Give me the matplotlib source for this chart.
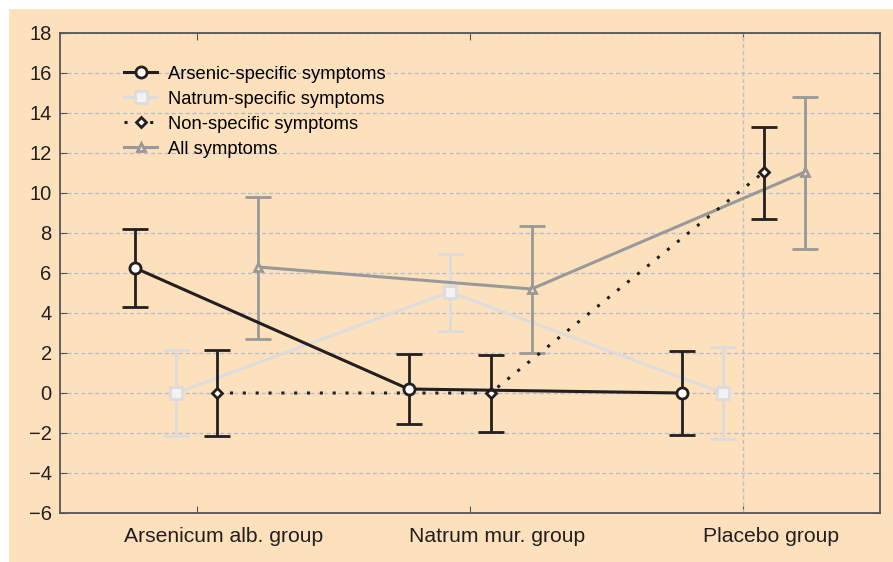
import matplotlib.pyplot as plt
import matplotlib.patches as mpatches
from matplotlib.lines import Line2D
import numpy as np

plt.rcParams['font.family'] = ['Liberation Sans', 'DejaVu Sans']

groups = ['Arsenicum alb. group', 'Natrum mur. group', 'Placebo group']

ars_mean = [6.25, 0.2, 0.0]
ars_lo = [4.3, -1.55, -2.1]
ars_hi = [8.2, 1.95, 2.1]

nat_mean = [0.0, 5.05, 0.0]
nat_lo = [-2.15, 3.1, -2.3]
nat_hi = [2.15, 6.95, 2.3]

non_mean = [0.0, 0.0, 11.05]
non_lo = [-2.15, -1.95, 8.7]
non_hi = [2.15, 1.9, 13.3]

all_mean = [6.3, 5.2, 11.05]
all_lo = [2.7, 2.0, 7.2]
all_hi = [9.8, 8.35, 14.8]

bg = '#fde1bd'
black = '#231f20'
light = '#dcdcdc'
gray = '#999999'
gridc = '#b9bdca'

fig = plt.figure(figsize=(8.93, 5.62), dpi=100)
fig.patch.set_facecolor('white')
fig.patches.append(mpatches.Rectangle((9 / 893, 0), 1, 1 - 9 / 562,
                                      transform=fig.transFigure,
                                      facecolor=bg, edgecolor='none', zorder=-10))
ax = fig.add_axes([60 / 893, 1 - 513 / 562, 820 / 893, 480 / 562])
ax.set_facecolor(bg)

x = np.arange(len(groups))
handles = []


def draw(offset, mean, lo, hi, color, marker, ms, mfc, ls, lw, label, z):
    mean = np.array(mean)
    err = [mean - np.array(lo), np.array(hi) - mean]
    style = dict(color=color, marker=marker, markersize=ms, markerfacecolor=mfc,
                 markeredgecolor=color, markeredgewidth=2, linestyle=ls,
                 linewidth=lw)
    ax.errorbar(x + offset, mean, yerr=err, elinewidth=2, capsize=9.5,
                capthick=2, zorder=z, **style)
    handles.append(Line2D([], [], label=label, **style))


draw(-0.225, ars_mean, ars_lo, ars_hi, black, 'o', 8, 'white', '-', 2.2,
     'Arsenic-specific symptoms', 6)
draw(-0.075, nat_mean, nat_lo, nat_hi, light, 's', 9, '#f2f2f2', '-', 2.2,
     'Natrum-specific symptoms', 3)
draw(0.075, non_mean, non_lo, non_hi, black, 'D', 5, 'white', (0, (1, 3.2)), 2.2,
     'Non-specific symptoms', 5)
draw(0.225, all_mean, all_lo, all_hi, gray, '^', 6, bg, '-', 2.2,
     'All symptoms', 4)

ax.set_xlim(-0.5, 2.5)
ax.set_ylim(-6, 18)
ax.set_yticks(np.arange(-6, 19, 2))
ax.set_yticklabels([str(v).replace('-', '\u2212') for v in range(-6, 19, 2)])
ax.set_xticks(x)
ax.set_xticklabels([])
ax.set_xticks(x + 0.1, minor=True)
ax.set_xticklabels(groups, minor=True)
ax.tick_params(axis='x', which='minor', length=0, pad=10, labelsize=15.2)
ax.tick_params(which='major', direction='in', top=True, right=True,
               length=5, color='#555555')
ax.tick_params(axis='y', labelsize=14.5, pad=6)
ax.tick_params(which='both', labelcolor=black)
ax.yaxis.grid(True, linestyle=(0, (3, 2)), color=gridc, linewidth=1.0)
ax.axvline(2, linestyle=(0, (3, 2)), color=gridc, linewidth=1.0, zorder=1)
ax.set_axisbelow(True)
for s in ax.spines.values():
    s.set_color('#555555')
    s.set_linewidth(1.3)

ax.legend(handles=handles, loc='upper left', bbox_to_anchor=(0.065, 0.955),
          frameon=False, fontsize=13.2, handlelength=1.8, labelspacing=0.44,
          handletextpad=0.6, borderaxespad=0.2)

fig.savefig('out.png', dpi=100, facecolor=fig.get_facecolor())
